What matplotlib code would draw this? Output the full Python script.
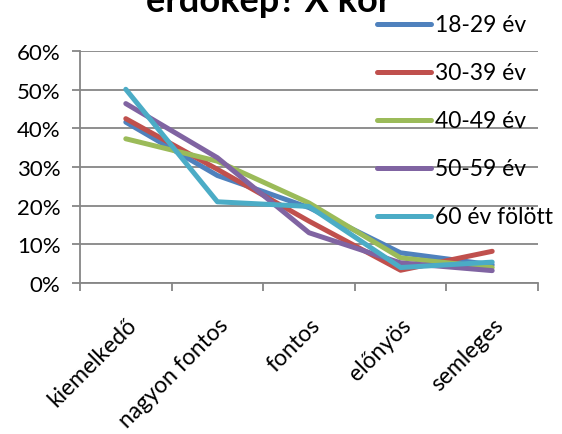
import matplotlib.pyplot as plt
from matplotlib.ticker import FuncFormatter, FixedLocator
import numpy as np

# data
categories = ['kiemelkedő', 'nagyon fontos', 'fontos', 'előnyös', 'semleges']
series_names = ['18-29 év', '30-39 év', '40-49 év', '50-59 év', '60 év fölött']
v_18_29 = [41.6, 27.8, 19.5, 7.8, 4.7]
v_30_39 = [42.5, 29.4, 16.0, 3.3, 8.2]
v_40_49 = [37.3, 31.5, 20.7, 6.5, 4.0]
v_50_59 = [46.4, 32.4, 13.0, 5.2, 3.2]
v_60_up = [50.1, 21.0, 19.8, 4.0, 5.4]
colors = ['#4F81BD', '#C0504D', '#9BBB59', '#8064A2', '#4BACC6']

plt.rcParams['font.family'] = ['Lato', 'DejaVu Sans']

fig = plt.figure(figsize=(5.62, 4.35), dpi=100)
ax = fig.add_axes([80 / 562, 1 - 284 / 435, (538 - 80) / 562, (284 - 52) / 435])

x = np.arange(len(categories))
all_series = [v_18_29, v_30_39, v_40_49, v_50_59, v_60_up]
for vals, name, c in zip(all_series, series_names, colors):
    ax.plot(x, np.array(vals) / 100, color=c, lw=3.6, label=name,
            solid_capstyle='round', solid_joinstyle='round')

ax.set_xlim(-0.5, len(categories) - 0.5)
ax.set_ylim(0, 0.6)
ax.set_yticks(np.arange(0, 0.61, 0.1))
ax.yaxis.set_major_formatter(FuncFormatter(lambda v, p: f'{v * 100:.0f}%'))
ax.grid(axis='y', color='#868686', lw=1.3)
ax.set_axisbelow(True)

ax.set_xticks(x)
ax.set_xticklabels(categories, rotation=45, ha='right', va='top',
                   rotation_mode='anchor', fontsize=16.5)
ax.xaxis.set_minor_locator(FixedLocator(np.arange(-0.5, len(categories), 1)))
ax.tick_params(axis='x', which='major', length=0, pad=22)
ax.tick_params(axis='x', which='minor', length=6, width=1.3, color='#868686')
ax.tick_params(axis='y', length=6, width=1.3, color='#868686', labelsize=16, pad=8)

for s in ['top', 'right']:
    ax.spines[s].set_visible(False)
for s in ['left', 'bottom']:
    ax.spines[s].set_color('#868686')
    ax.spines[s].set_linewidth(1.3)

# legend placed over the right side of the chart
leg_x0, leg_x1, tx = 377, 431, 435
for i, (name, c) in enumerate(zip(series_names, colors)):
    yy = 1 - (25 + i * 48) / 435
    fig.add_artist(plt.Line2D([leg_x0 / 562, leg_x1 / 562], [yy, yy],
                              color=c, lw=3.6, solid_capstyle='round'))
    fig.text(tx / 562, yy, name, fontsize=16.5, va='center', ha='left')

fig.text(269 / 562, 1 - 12 / 435, 'erdőkép? X kor', fontsize=26,
         fontweight='bold', ha='center', va='baseline')

fig.savefig('out.png', dpi=100)
